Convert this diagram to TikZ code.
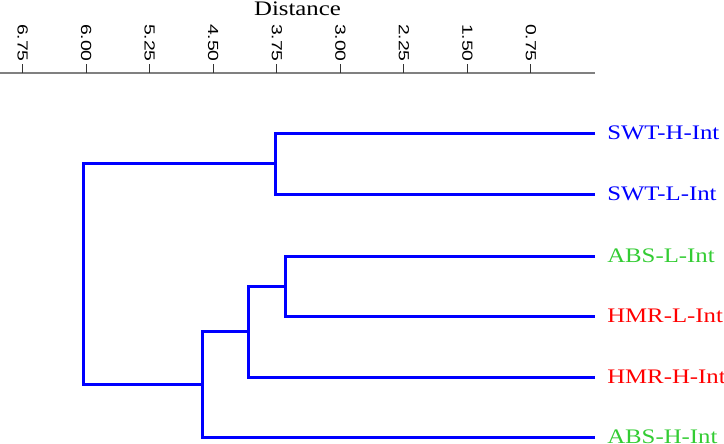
\documentclass[tikz,border=0pt]{standalone}
\usepackage{fontspec}
\setmainfont{Liberation Serif}
\newfontfamily\ticksans{Liberation Sans}
\definecolor{linkblue}{RGB}{0,0,255}
\definecolor{absgreen}{RGB}{51,204,51}
\definecolor{hmrred}{RGB}{255,0,0}
\definecolor{axisgray}{RGB}{128,128,128}
\begin{document}
\begin{tikzpicture}[x=0.75pt,y=-0.75pt,
  link/.style={draw=linkblue,line width=2.25pt},
  leaf/.style={anchor=base west,inner sep=0pt,font=\fontsize{15.5}{17}\selectfont},
  ticklabel/.style={anchor=east,rotate=-90,inner sep=0pt,font=\ticksans\fontsize{11}{12}\selectfont}]
\clip (0,0) rectangle (724,443);
% distance axis
\node[anchor=base,inner sep=0pt,font=\fontsize{15.5}{17}\selectfont] (dist) at (297.5,15) {\scalebox{1.2}[1]{Distance}};
\draw[axisgray,line width=1.5pt] (0,73) coordinate (ax0) -- (595,73) coordinate (ax1);
\foreach \v in {6.75,6.00,5.25,4.50,3.75,3.00,2.25,1.50,0.75} {
  \draw[black!80,line width=0.75pt] (594.5-84.72*\v,73) -- (594.5-84.72*\v,64);
  \node[ticklabel] at (594.5-84.72*\v,62) {\scalebox{1.32}[1]{\v}};
}
% leaves
\coordinate (e1) at (595,133);
\coordinate (e2) at (595,194);
\coordinate (e3) at (595,256);
\coordinate (e4) at (595,316);
\coordinate (e5) at (595,377);
\coordinate (e6) at (595,437);
\node[leaf,text=linkblue] (swth) at (607,139) {\scalebox{1.2}[1]{SWT-H-Int}};
\node[leaf,text=linkblue] (swtl) at (607,200) {\scalebox{1.2}[1]{SWT-L-Int}};
\node[leaf,text=absgreen] (absl) at (607,262) {\scalebox{1.2}[1]{ABS-L-Int}};
\node[leaf,text=hmrred] (hmrl) at (607,322) {\scalebox{1.2}[1]{HMR-L-Int}};
\node[leaf,text=hmrred] (hmrh) at (607,383) {\scalebox{1.2}[1]{HMR-H-Int}};
\node[leaf,text=absgreen] (absh) at (607,443) {\scalebox{1.2}[1]{ABS-H-Int}};
% joins
\coordinate (j12) at (275,163.5);
\coordinate (j34) at (285,286);
\coordinate (j345) at (248,331.5);
\coordinate (j3456) at (202,384);
\coordinate (root) at (83,274);
\draw[link] (e1) -| (j12) |- (e2);
\draw[link] (e3) -| (j34) |- (e4);
\draw[link] (j34) -| (j345) |- (e5);
\draw[link] (j345) -| (j3456) |- (e6);
\draw[link] (j12) -| (root) |- (j3456);
\end{tikzpicture}
\end{document}
